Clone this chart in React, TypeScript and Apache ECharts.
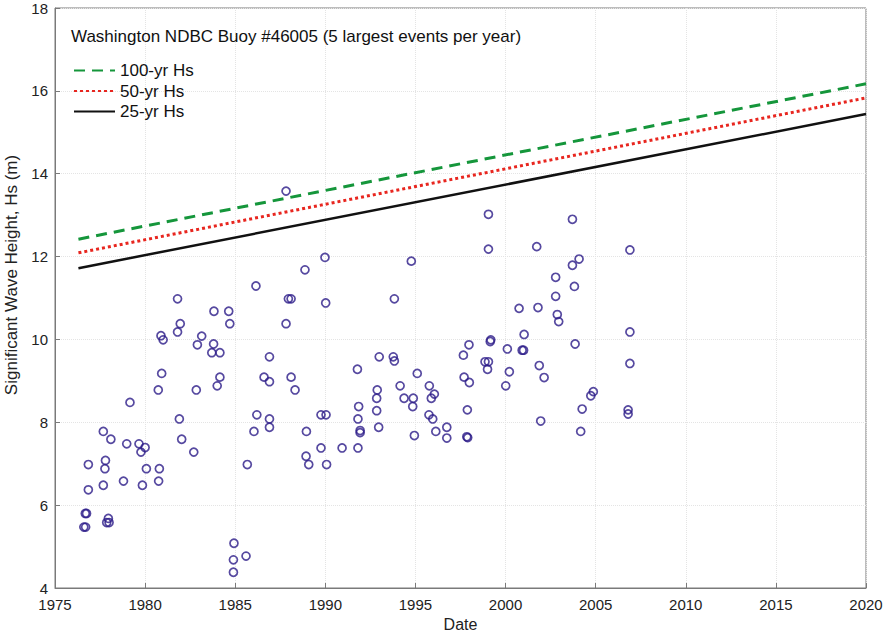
import React, { useEffect, useRef } from "react";
import * as echarts from "echarts";

const titleText = "Washington NDBC Buoy #46005 (5 largest events per year)";
const seriesNames = ["100-yr Hs", "50-yr Hs", "25-yr Hs"];
const lineYears = [1976.3, 2020];
const hs100 = [12.42, 16.17];
const hs50 = [12.09, 15.83];
const hs25 = [11.72, 15.44];

const eventYears = [
  1976.6, 1976.7, 1976.68, 1976.75, 1976.85, 1976.85, 1977.68, 1977.68, 1977.77, 1977.8,
  1977.87, 1977.96, 1978.0, 1978.1, 1978.8, 1978.98, 1979.16, 1979.66, 1979.77, 1979.85,
  1980.0, 1980.07, 1980.73, 1980.75, 1980.79, 1980.88, 1980.92, 1981.0, 1981.8, 1981.8,
  1981.9, 1981.95, 1982.03, 1982.7, 1982.84, 1982.9, 1983.14, 1983.7, 1983.82, 1983.8,
  1984.0, 1984.15, 1984.15, 1984.64, 1984.7, 1984.9, 1984.9, 1984.93, 1985.6, 1985.67,
  1986.04, 1986.15, 1986.2, 1986.6, 1986.9, 1986.9, 1986.9, 1986.9, 1987.82, 1987.82,
  1987.95, 1988.1, 1988.1, 1988.32, 1988.87, 1988.93, 1988.95, 1989.08, 1989.76, 1989.76,
  1989.98, 1990.02, 1990.04, 1990.07, 1990.93, 1991.78, 1991.85, 1991.81, 1991.93, 1991.93,
  1991.81, 1992.88, 1992.85, 1992.85, 1992.96, 1992.99, 1993.77, 1993.83, 1993.83, 1994.15,
  1994.37, 1994.77, 1994.88, 1994.85, 1994.94, 1995.1, 1995.77, 1995.88, 1995.75, 1995.96,
  1996.05, 1996.13, 1996.74, 1996.74, 1997.66, 1997.7, 1997.97, 1997.99, 1997.88, 1997.85,
  1997.9, 1998.86, 1999.05, 1999.0, 1999.05, 1999.05, 1999.18, 1999.15, 2000.01, 2000.1,
  2000.21, 2000.75, 2000.92, 2001.0, 2001.03, 2001.73, 2001.8, 2001.87, 2001.95, 2002.14,
  2002.78, 2002.78, 2002.87, 2002.95, 2003.71, 2003.71, 2003.82, 2003.86, 2004.08, 2004.17,
  2004.25, 2004.73, 2004.87, 2006.9, 2006.9, 2006.9, 2006.8, 2006.8,
];
const eventHs = [
  5.47, 5.47, 5.8, 5.8, 6.37, 6.98, 6.48, 7.78, 6.88, 7.08,
  5.58, 5.68, 5.58, 7.59, 6.58, 7.48, 8.48, 7.48, 7.28, 6.48,
  7.39, 6.88, 8.78, 6.58, 6.88, 10.09, 9.18, 9.99, 10.98, 10.18,
  8.08, 10.38, 7.59, 7.28, 8.78, 9.87, 10.08, 9.68, 10.68, 9.89,
  8.88, 9.09, 9.68, 10.68, 10.38, 4.38, 4.68, 5.08, 4.77, 6.98,
  7.78, 11.29, 8.18, 9.09, 9.58, 8.98, 8.08, 7.88, 13.58, 10.38,
  10.98, 10.98, 9.09, 8.78, 11.68, 7.18, 7.78, 6.98, 8.18, 7.38,
  11.98, 10.88, 8.18, 6.98, 7.38, 9.28, 8.38, 8.08, 7.8, 7.75,
  7.38, 8.78, 8.58, 8.28, 7.88, 9.58, 9.58, 9.48, 10.98, 8.88,
  8.58, 11.89, 8.58, 8.38, 7.68, 9.18, 8.88, 8.58, 8.18, 8.08,
  8.68, 7.78, 7.88, 7.62, 9.62, 9.09, 9.87, 8.96, 8.3, 7.65,
  7.63, 9.46, 9.46, 9.28, 13.02, 12.18, 9.99, 9.95, 8.88, 9.77,
  9.22, 10.75, 9.74, 9.74, 10.12, 12.24, 10.77, 9.37, 8.03, 9.08,
  11.5, 11.04, 10.6, 10.43, 12.9, 11.79, 11.28, 9.89, 11.94, 7.78,
  8.32, 8.64, 8.74, 12.16, 10.18, 9.42, 8.3, 8.2,
];

const FONT = "Liberation Sans, Arial, sans-serif";

export default function App() {
  const ref = useRef<HTMLDivElement>(null);
  useEffect(() => {
    document.body.style.margin = "0";
    if (!ref.current) return;
    const chart = echarts.init(ref.current, null, { renderer: "svg" });
    const scatterData = eventYears.map((y, i) => [y, eventHs[i]]);
    const mk = (vals: number[]) => lineYears.map((y, i) => [y, vals[i]]);
    chart.setOption({
      animation: false,
      backgroundColor: "#ffffff",
      textStyle: { fontFamily: FONT },
      title: {
        text: titleText,
        left: 66,
        top: 23,
        textStyle: { fontFamily: FONT, fontSize: 17, fontWeight: "normal", color: "#111" },
      },
      legend: {
        data: seriesNames,
        orient: "vertical",
        left: 68,
        top: 57,
        itemWidth: 41,
        itemHeight: 14,
        itemGap: 3.5,
        itemStyle: { opacity: 0 },
        textStyle: { fontFamily: FONT, fontSize: 17, lineHeight: 17, color: "#111" },
      },
      grid: {
        left: 55,
        right: 26,
        top: 8,
        bottom: 45,
        show: true,
        containLabel: false,
        outerBoundsMode: "none",
        borderColor: "#7a7a7a",
        borderWidth: 1,
        backgroundColor: "transparent",
      },
      xAxis: {
        type: "value",
        min: 1975,
        max: 2020,
        interval: 5,
        name: "Date",
        nameLocation: "middle",
        nameGap: 27,
        nameTextStyle: { fontFamily: FONT, fontSize: 16, color: "#222" },
        axisLine: { show: true, lineStyle: { color: "#7a7a7a" } },
        axisTick: { show: true, inside: true, length: 5, lineStyle: { color: "#7a7a7a" } },
        axisLabel: { fontFamily: FONT, fontSize: 15, color: "#222", margin: 9, formatter: (v: number) => String(v) },
        splitLine: { show: true, lineStyle: { color: "#e4e4e4", type: "dotted" } },
      },
      yAxis: {
        type: "value",
        min: 4,
        max: 18,
        interval: 2,
        name: "Significant Wave Height, Hs (m)",
        nameLocation: "middle",
        nameGap: 28,
        nameTextStyle: { fontFamily: FONT, fontSize: 17, color: "#222", padding: [0, 0, 0, 46] },
        axisLine: { show: true, lineStyle: { color: "#7a7a7a" } },
        axisTick: { show: true, inside: true, length: 5, lineStyle: { color: "#7a7a7a" } },
        axisLabel: { fontFamily: FONT, fontSize: 15, color: "#222", margin: 7 },
        splitLine: { show: true, lineStyle: { color: "#e4e4e4", type: "dotted" } },
      },
      series: [
        {
          name: "events",
          type: "scatter",
          data: scatterData,
          symbol: "circle",
          symbolSize: 8,
          itemStyle: { color: "rgba(0,0,0,0)", borderColor: "#2c1c88", borderWidth: 1.7 },
          z: 2,
        },
        {
          name: seriesNames[0],
          type: "line",
          data: mk(hs100),
          showSymbol: false,
          symbol: "none",
          color: "#15963b",
          lineStyle: { color: "#15963b", width: 3, type: [11, 7] },
          z: 3,
        },
        {
          name: seriesNames[1],
          type: "line",
          data: mk(hs50),
          showSymbol: false,
          symbol: "none",
          color: "#e8261f",
          lineStyle: { color: "#e8261f", width: 3, type: [3, 3] },
          z: 3,
        },
        {
          name: seriesNames[2],
          type: "line",
          data: mk(hs25),
          showSymbol: false,
          symbol: "none",
          color: "#111111",
          lineStyle: { color: "#111111", width: 2.5, type: "solid" },
          z: 3,
        },
      ],
    });
    return () => chart.dispose();
  }, []);
  return <div ref={ref} style={{ width: 892, height: 633 }} />;
}
